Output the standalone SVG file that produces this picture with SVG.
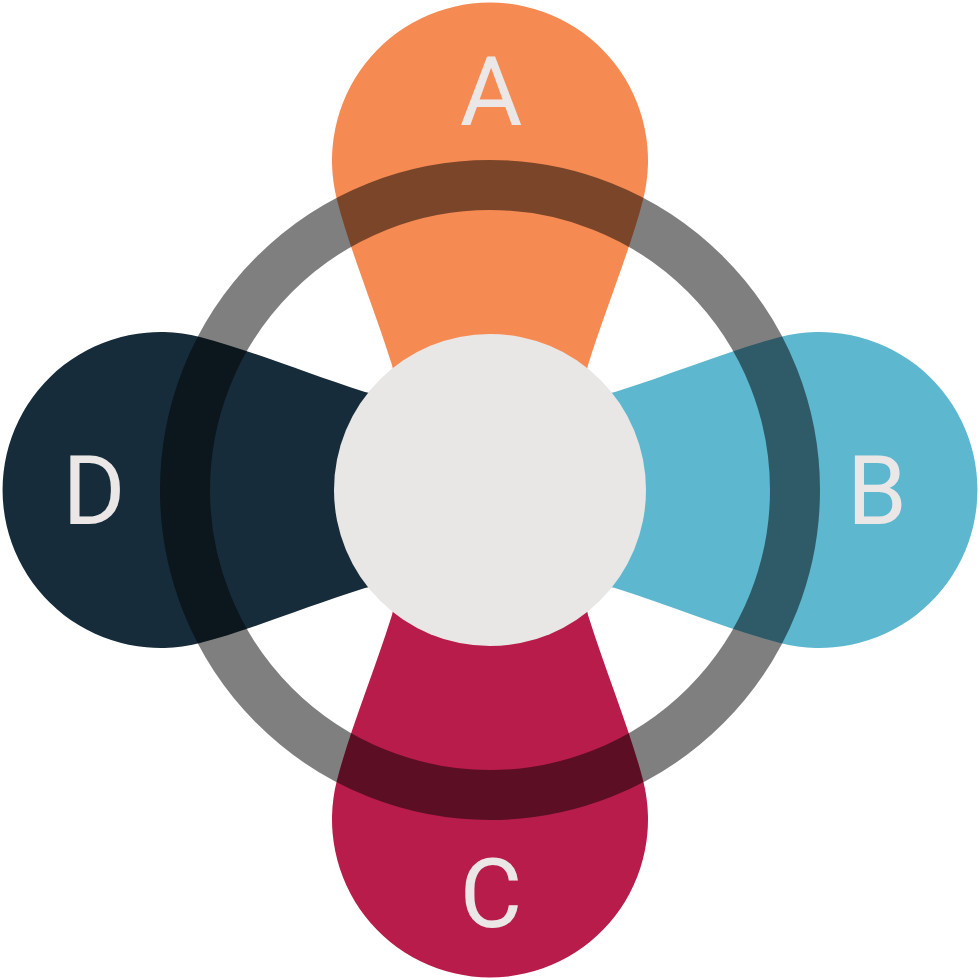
<svg xmlns="http://www.w3.org/2000/svg" width="980" height="980" viewBox="0 0 980 980">
<defs>
<style>
.lbl{font-family:Roboto,"Liberation Sans",sans-serif;font-size:96px;fill:#ebe7e7;text-anchor:middle}
</style>
<path id="petal" d="M337,200 C350,250 373,305 392,365 L406,430 L574,430 L588,365 C607,305 630,250 643,200 A158 158 0 1 0 337,200 Z"/>
</defs>
<rect width="980" height="980" fill="#ffffff"/>
<g id="node-A"><use href="#petal" fill="#f58a52"/></g>
<g id="node-B"><use href="#petal" fill="#5db7cf" transform="rotate(90 490 490)"/></g>
<g id="node-C"><use href="#petal" fill="#b81c4a" transform="rotate(180 490 490)"/></g>
<g id="node-D"><use href="#petal" fill="#162c3a" transform="rotate(270 490 490)"/></g>
<g id="connectors">
<circle cx="490" cy="490" r="305" fill="none" stroke="#000000" stroke-opacity="0.5" stroke-width="50"/>
</g>
<g id="node-center"><circle cx="490" cy="490" r="156" fill="#e9e6e6"/></g>
<g id="labels">
<text class="lbl" x="491" y="125">A</text>
<text class="lbl" x="877" y="524">B</text>
<text class="lbl" x="491" y="927">C</text>
<text class="lbl" x="94" y="524">D</text>
</g>
</svg>
